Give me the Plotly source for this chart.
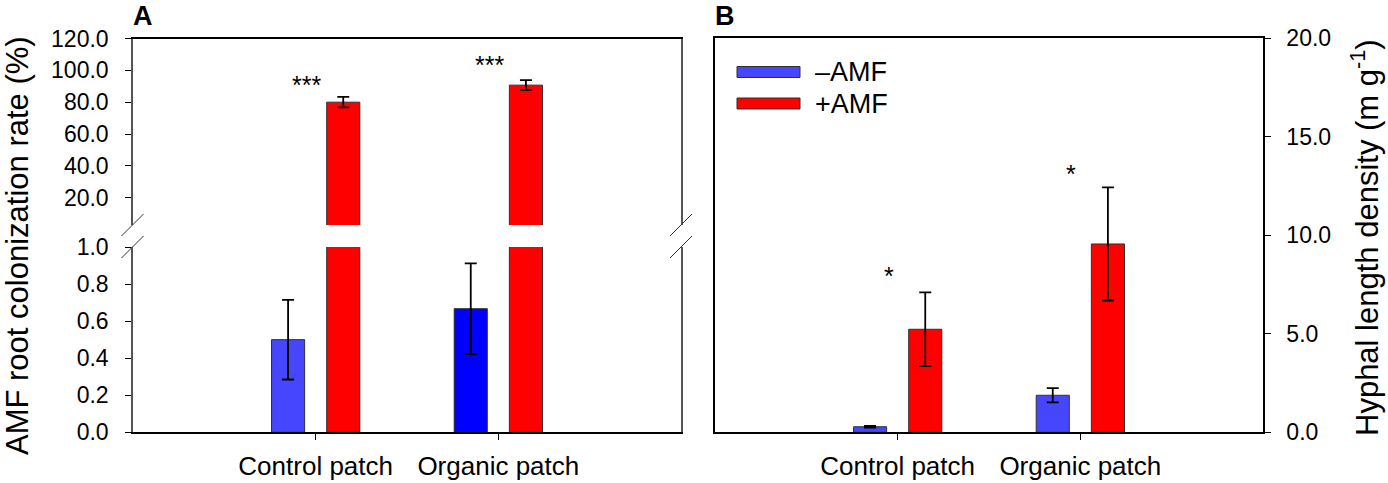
import plotly.graph_objects as go

# ---------------- data ----------------
categories = ["Control patch", "Organic patch"]
cat_pos = [1, 2]

# Panel A: AMF root colonization rate (%)
colon_minus = [0.50, 0.667]
colon_minus_err = [0.215, 0.245]
colon_plus = [80.0, 90.7]
colon_plus_err = [3.3, 3.1]
sig_A = ["***", "***"]
sig_A_y = [90.5, 103.4]

# Panel B: Hyphal length density (m g-1)
hyph_minus = [0.28, 1.88]
hyph_minus_err = [0.04, 0.36]
hyph_plus = [5.23, 9.56]
hyph_plus_err = [1.87, 2.87]
sig_B = ["*", "*"]
sig_B_y = [7.92, 13.09]

upper_ticks = [20, 40, 60, 80, 100, 120]
lower_ticks = [0, 0.2, 0.4, 0.6, 0.8, 1.0]
right_ticks = [0, 5, 10, 15, 20]

# ---------------- style ----------------
W, H = 1388, 483
FONT = "Arial, Liberation Sans, sans-serif"
BLUE_L = "#4646FF"
BLUE_D = "#0000FF"
RED = "#FF0000"
EDGE = "#303030"


def px_x(x):
    return x / W


def px_y(y):
    return 1 - y / H


err_style = dict(type="data", color="black", thickness=1.8, width=6, visible=True)

fig = go.Figure()

# Panel A lower & upper subplots (same bars, broken axis)
for xa, ya in [("x", "y"), ("x2", "y2")]:
    fig.add_trace(go.Bar(
        x=cat_pos, y=colon_minus, xaxis=xa, yaxis=ya, name="–AMF",
        marker=dict(color=[BLUE_L, BLUE_D], line=dict(color=EDGE, width=1)),
        error_y=dict(array=colon_minus_err, **err_style), showlegend=False))
    fig.add_trace(go.Bar(
        x=cat_pos, y=colon_plus, xaxis=xa, yaxis=ya, name="+AMF",
        marker=dict(color=RED, line=dict(color=EDGE, width=1)),
        error_y=dict(array=colon_plus_err if ya == "y2" else [0, 0], **err_style),
        showlegend=False))

# Panel B
fig.add_trace(go.Bar(
    x=cat_pos, y=hyph_minus, xaxis="x3", yaxis="y3", name="–AMF",
    marker=dict(color=BLUE_L, line=dict(color=EDGE, width=1)),
    error_y=dict(array=hyph_minus_err, **err_style), showlegend=False))
fig.add_trace(go.Bar(
    x=cat_pos, y=hyph_plus, xaxis="x3", yaxis="y3", name="+AMF",
    marker=dict(color=RED, line=dict(color=EDGE, width=1)),
    error_y=dict(array=hyph_plus_err, **err_style), showlegend=False))

domA = [px_x(133), px_x(681)]
domB = [px_x(715), px_x(1263)]
tickfont = dict(family=FONT, size=23, color="black")

common_x = dict(range=[0, 3], tickvals=cat_pos, ticktext=categories,
                ticks="outside", ticklen=6, tickcolor="black",
                showline=True, linecolor="black", linewidth=1.5, automargin=False,
                showgrid=False, zeroline=False,
                tickfont=dict(family=FONT, size=26, color="black"),
                ticklabelstandoff=4)

fig.update_layout(
    template="none",
    width=W, height=H,
    margin=dict(l=0, r=0, t=0, b=0, autoexpand=False),
    paper_bgcolor="white", plot_bgcolor="white",
    showlegend=False,
    barmode="group", bargap=0.396, bargroupgap=0.40,
    font=dict(family=FONT, color="black"),
    xaxis=dict(domain=domA, anchor="y", **common_x),
    yaxis=dict(domain=[px_y(432.3), px_y(247)], anchor="x", range=[0, 1],
               tickvals=lower_ticks, tickformat=".1f", ticks="outside", ticklen=6,
               tickcolor="black", showline=True, linecolor="#555555", linewidth=1.5,
               mirror=True, showgrid=False, zeroline=False, tickfont=tickfont,
               ticklabelstandoff=12, automargin=False),
    xaxis2=dict(domain=domA, anchor="y2", range=[0, 3], side="top",
                showline=True, linecolor="black", linewidth=1.5, automargin=False,
                showticklabels=False, ticks="", showgrid=False, zeroline=False),
    yaxis2=dict(domain=[px_y(225), px_y(38.5)], anchor="x2", range=[2.85, 120],
                tickvals=upper_ticks, tickformat=".1f", ticks="outside", ticklen=6,
                tickcolor="black", showline=True, linecolor="#555555", linewidth=1.5,
                mirror=True, showgrid=False, zeroline=False, tickfont=tickfont,
                ticklabelstandoff=12, automargin=False),
    xaxis3=dict(domain=domB, anchor="y3", mirror=True, **common_x),
    yaxis3=dict(domain=[px_y(432.3), px_y(38.3)], anchor="x3", side="right",
                range=[0, 20], tickvals=right_ticks, tickformat=".1f",
                ticks="outside", ticklen=6, tickcolor="black", showline=True,
                linecolor="black", linewidth=1.5, mirror=True, showgrid=False,
                zeroline=False, tickfont=tickfont, ticklabelstandoff=11,
                automargin=False),
)

annotations = []
# significance marks
for i in range(2):
    annotations.append(dict(x=cat_pos[i] - 0.05, y=sig_A_y[i], xref="x2", yref="y2",
                            text=sig_A[i], showarrow=False,
                            font=dict(family=FONT, size=25), yanchor="middle"))
    annotations.append(dict(x=cat_pos[i] - 0.05, y=sig_B_y[i], xref="x3", yref="y3",
                            text=sig_B[i], showarrow=False,
                            font=dict(family=FONT, size=25), yanchor="middle"))

# panel labels
annotations.append(dict(x=px_x(131), y=px_y(16), xref="paper", yref="paper", text="<b>A</b>",
                        showarrow=False, xanchor="left", yanchor="middle",
                        font=dict(family=FONT, size=27)))
annotations.append(dict(x=px_x(713), y=px_y(16), xref="paper", yref="paper", text="<b>B</b>",
                        showarrow=False, xanchor="left", yanchor="middle",
                        font=dict(family=FONT, size=27)))

# axis titles
annotations.append(dict(x=px_x(18), y=px_y(246), xref="paper", yref="paper",
                        text="AMF root colonization rate (%)", textangle=-90,
                        showarrow=False, xanchor="center", yanchor="middle",
                        font=dict(family=FONT, size=31)))
annotations.append(dict(x=px_x(1365), y=px_y(238), xref="paper", yref="paper",
                        text="Hyphal length density (m g<sup>-1</sup>)", textangle=-90,
                        showarrow=False, xanchor="center", yanchor="middle",
                        font=dict(family=FONT, size=31)))

# legend (manual, wide swatches)
leg_names = ["–AMF", "+AMF"]
leg_colors = [BLUE_L, RED]
leg_y = [72, 103.5]
shapes = []
for name, col, yc in zip(leg_names, leg_colors, leg_y):
    shapes.append(dict(type="rect", xref="paper", yref="paper",
                       x0=px_x(737), x1=px_x(800), y0=px_y(yc + 5.5), y1=px_y(yc - 5.5),
                       fillcolor=col, line=dict(color=EDGE, width=1)))
    annotations.append(dict(x=px_x(813), y=px_y(yc), xref="paper", yref="paper",
                            text=name, showarrow=False, xanchor="left", yanchor="middle",
                            font=dict(family=FONT, size=27)))

# axis break marks
for xb in [132.5, 681]:
    for yb in [225, 247]:
        shapes.append(dict(type="line", xref="paper", yref="paper",
                           x0=px_x(xb - 11), y0=px_y(yb + 11),
                           x1=px_x(xb + 11), y1=px_y(yb - 11),
                           line=dict(color="#333333", width=1)))

fig.update_layout(annotations=annotations, shapes=shapes)
fig.write_html("out.html",
               config={"displayModeBar": False},
               post_script="document.body.style.margin='0';document.body.style.overflow='hidden';")
